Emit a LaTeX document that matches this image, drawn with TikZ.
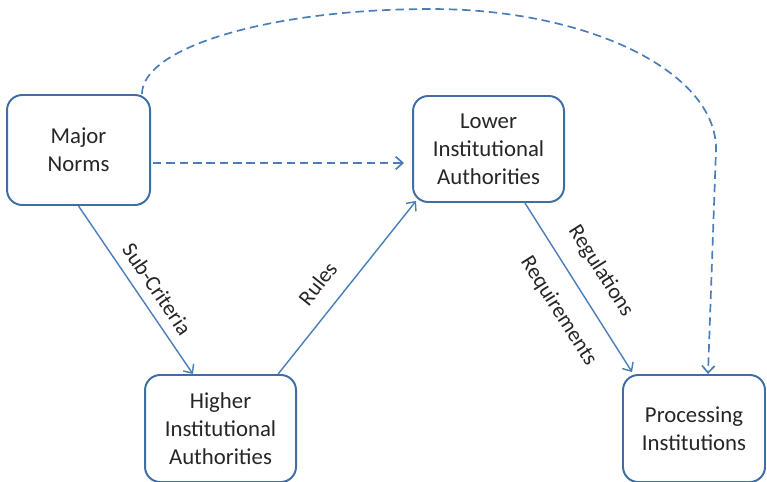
\documentclass[tikz,border=0pt]{standalone}
\usepackage{fontspec}
\setmainfont{Carlito}
\usetikzlibrary{arrows.meta}
\definecolor{boxColor}{HTML}{3F6EA5}
\definecolor{linkColor}{HTML}{4A7EBB}
\definecolor{textColor}{HTML}{262626}

\begin{document}
\begin{tikzpicture}[
    box/.style={draw=boxColor, line width=1.4pt, rounded corners=0.38cm, align=center,
      text=textColor, font=\fontsize{16.2}{19.8}\selectfont},
    link/.style={draw=linkColor, line width=1pt, -{Straight Barb[length=5pt,width=9pt]}},
    hint/.style={link, line width=1.2pt, dash pattern=on 6pt off 3.5pt},
    lbl/.style={sloped, inner sep=1pt, text=textColor, font=\fontsize{15.6}{19}\selectfont}
  ]
  \clip (0,0) rectangle (19.175,12.025);
  % the four bodies
  \node[box, minimum width=3.575cm, minimum height=2.75cm] (norms) at (1.963,8.275) {Major\\Norms};
  \node[box, minimum width=3.775cm, minimum height=2.65cm] (lower) at (12.213,8.3) {Lower\\Institutional\\Authorities};
  \node[box, minimum width=3.775cm, minimum height=2.675cm] (higher) at (5.513,1.3125) {Higher\\Institutional\\Authorities};
  \node[box, minimum width=3.55cm, minimum height=2.675cm] (proc) at (17.35,1.3125) {Processing\\Institutions};
  % solid links
  \draw[link] (norms.south) -- node[lbl, above=0.21cm, pos=0.556] (subCrit) {Sub-Criteria} ([xshift=-0.69cm]higher.north);
  \draw[link] ([xshift=1.44cm]higher.north) -- node[lbl, above=0.39cm, pos=0.43] (rules) {Rules} ([shift={(0.1cm,0.05cm)}]lower.south west);
  \draw[link] ([xshift=0.91cm]lower.south) --
    node[lbl, above=0.4cm, pos=0.49] (regs) {Regulations}
    node[lbl, below=0.45cm, pos=0.545] (reqs) {Requirements}
    ([shift={(0.25cm,0.05cm)}]proc.north west);
  % dashed links
  \draw[hint, shorten <=0.05cm, shorten >=0.2cm] ([yshift=-0.325cm]norms.east) -- ([yshift=-0.35cm]lower.west);
  \draw[hint] ([xshift=-0.225cm]norms.north east)
    arc[start angle=180, end angle=90, x radius=7.225cm, y radius=2.125cm]
    arc[start angle=90, end angle=0, x radius=7.125cm, y radius=3.5cm]
    -- ([xshift=0.35cm]proc.north);
\end{tikzpicture}
\end{document}
